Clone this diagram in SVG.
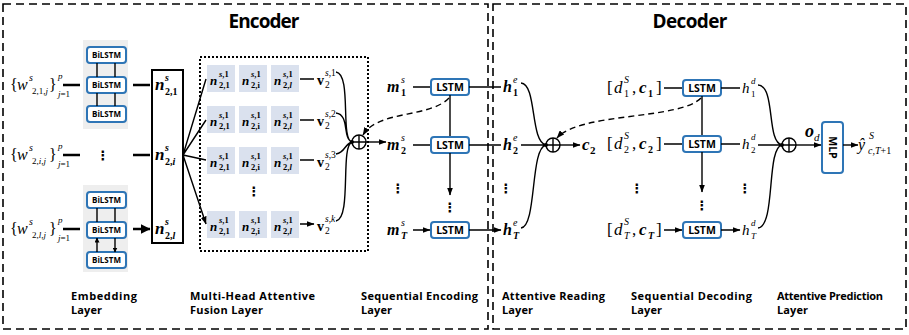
<svg xmlns="http://www.w3.org/2000/svg" width="909" height="335" viewBox="0 0 909 335">
<style>
.frame{fill:none;stroke:#000;stroke-width:1.6;stroke-dasharray:8 5}
.dot{fill:none;stroke:#000;stroke-width:2;stroke-dasharray:2 2}
.title{font-family:"Open Sans","Liberation Sans",sans-serif;font-weight:bold;font-size:19px;text-anchor:middle}
.lbl{font-family:"Open Sans","Liberation Sans",sans-serif;font-weight:bold;font-size:11px}
.box{fill:#fff;stroke:#2e75b6;stroke-width:2}
.bt{font-family:"Open Sans","Liberation Sans",sans-serif;font-weight:bold;font-size:8px;text-anchor:middle}
.lt{font-family:"Open Sans","Liberation Sans",sans-serif;font-weight:bold;font-size:10.5px;text-anchor:middle}
.bg{fill:#eeeeee}
.cell{fill:#dae1ee}
.m{font-family:"Liberation Serif","DejaVu Serif",serif}
.bi{font-style:italic;font-weight:bold}
.it{font-style:italic}
.b{font-weight:bold}
.ln{fill:none;stroke:#000;stroke-width:1.4}
.th{fill:none;stroke:#000;stroke-width:2.6}
.dash{fill:none;stroke:#000;stroke-width:1.4;stroke-dasharray:6 4}
.op{fill:#fff;stroke:#000;stroke-width:1.4}
.vd{font-family:"DejaVu Sans",sans-serif;font-size:13px;font-weight:bold;text-anchor:middle}
</style>
<defs>
<marker id="a" markerUnits="userSpaceOnUse" markerWidth="8" markerHeight="6" refX="7.5" refY="3" orient="auto"><path d="M0,0 L8,3 L0,6 z" fill="#000"/></marker>
<marker id="A" markerUnits="userSpaceOnUse" markerWidth="10" markerHeight="10" refX="9.5" refY="5" orient="auto"><path d="M0,0 L10,5 L0,10 z" fill="#000"/></marker>
<marker id="s" markerUnits="userSpaceOnUse" markerWidth="5" markerHeight="5" refX="4.5" refY="2.5" orient="auto"><path d="M0,0 L5,2.5 L0,5 z" fill="#000"/></marker>
</defs>

<g id="frames">
<rect class="frame" x="3" y="4" width="485" height="325"/>
<rect class="frame" x="493" y="4" width="413" height="325"/>
<text class="title" x="264" y="28" textLength="71">Encoder</text>
<text class="title" x="690" y="28" textLength="75">Decoder</text>
</g>

<g id="inputs" class="m">
<g id="in1">
<text x="10" y="90" font-size="16">{</text><text x="17" y="90" font-size="16" class="it">w</text>
<text x="29" y="81" font-size="10" class="it">s</text><text x="32" y="94" font-size="9">2,1,<tspan class="it">j</tspan></text>
<text x="49" y="90" font-size="16">}</text><text x="58" y="79" font-size="9" class="it">p</text><text x="58" y="97" font-size="9"><tspan class="it">j</tspan>=1</text>
</g>
<g id="in2">
<text x="10" y="160" font-size="16">{</text><text x="17" y="160" font-size="16" class="it">w</text>
<text x="29" y="151" font-size="10" class="it">s</text><text x="32" y="164" font-size="9">2,<tspan class="it">i</tspan>,<tspan class="it">j</tspan></text>
<text x="49" y="160" font-size="16">}</text><text x="58" y="149" font-size="9" class="it">p</text><text x="58" y="167" font-size="9"><tspan class="it">j</tspan>=1</text>
</g>
<g id="in3">
<text x="10" y="234" font-size="16">{</text><text x="17" y="234" font-size="16" class="it">w</text>
<text x="29" y="225" font-size="10" class="it">s</text><text x="32" y="238" font-size="9">2,<tspan class="it">l</tspan>,<tspan class="it">j</tspan></text>
<text x="49" y="234" font-size="16">}</text><text x="58" y="223" font-size="9" class="it">p</text><text x="58" y="241" font-size="9"><tspan class="it">j</tspan>=1</text>
</g>
</g>

<g id="bilstm-top">
<rect class="bg" x="83" y="40" width="45" height="89"/>
<rect class="box" x="87" y="47" width="39" height="16" rx="3"/><text class="bt" x="106.5" y="58">BiLSTM</text>
<rect class="box" x="87" y="77" width="39" height="16" rx="3"/><text class="bt" x="106.5" y="88">BiLSTM</text>
<rect class="box" x="87" y="106" width="39" height="16" rx="3"/><text class="bt" x="106.5" y="117">BiLSTM</text>
</g>
<g id="bilstm-bottom">
<rect class="bg" x="83" y="185" width="45" height="87"/>
<rect class="box" x="87" y="192" width="39" height="16" rx="3"/><text class="bt" x="106.5" y="203">BiLSTM</text>
<rect class="box" x="87" y="222" width="39" height="16" rx="3"/><text class="bt" x="106.5" y="233">BiLSTM</text>
<rect class="box" x="87" y="252" width="39" height="16" rx="3"/><text class="bt" x="106.5" y="263">BiLSTM</text>
</g>
<text class="vd" x="103" y="160">⋮</text>

<g id="n-box">
<rect x="152" y="70" width="31" height="173" fill="#fff" stroke="#000" stroke-width="2"/>
<g class="m">
<text x="155" y="90" font-size="17" class="bi">n</text><text x="165" y="81" font-size="10" class="bi">s</text><text x="165" y="95" font-size="10" class="b">2,1</text>
<text x="155" y="160" font-size="17" class="bi">n</text><text x="165" y="151" font-size="10" class="bi">s</text><text x="165" y="165" font-size="10" class="b">2,<tspan class="it">i</tspan></text>
<text x="155" y="234" font-size="17" class="bi">n</text><text x="165" y="225" font-size="10" class="bi">s</text><text x="165" y="239" font-size="10" class="b">2,<tspan class="it">l</tspan></text>
</g>
</g>

<g id="fusion">
<rect class="dot" x="200" y="57" width="168" height="194"/>
<g id="row1">
<rect class="cell" x="207" y="65" width="28" height="27"/><rect class="cell" x="239" y="65" width="28" height="27"/><rect class="cell" x="271" y="65" width="28" height="27"/>
</g>
<g id="row2">
<rect class="cell" x="207" y="106" width="28" height="27"/><rect class="cell" x="239" y="106" width="28" height="27"/><rect class="cell" x="271" y="106" width="28" height="27"/>
</g>
<g id="row3">
<rect class="cell" x="207" y="147" width="28" height="27"/><rect class="cell" x="239" y="147" width="28" height="27"/><rect class="cell" x="271" y="147" width="28" height="27"/>
</g>
<g id="row4">
<rect class="cell" x="207" y="211" width="28" height="27"/><rect class="cell" x="239" y="211" width="28" height="27"/><rect class="cell" x="271" y="211" width="28" height="27"/>
</g>
<g class="m" font-size="8.5">
<text x="210" y="85" font-size="13" class="bi">n</text><text x="219" y="77" class="b"><tspan class="it">s</tspan>,1</text><text x="219" y="88" class="b">2,1</text>
<text x="242" y="85" font-size="13" class="bi">n</text><text x="251" y="77" class="b"><tspan class="it">s</tspan>,1</text><text x="251" y="88" class="b">2,i</text>
<text x="274" y="85" font-size="13" class="bi">n</text><text x="283" y="77" class="b"><tspan class="it">s</tspan>,1</text><text x="283" y="88" class="b">2,<tspan class="it">l</tspan></text>
<text x="210" y="126" font-size="13" class="bi">n</text><text x="219" y="118" class="b"><tspan class="it">s</tspan>,1</text><text x="219" y="129" class="b">2,1</text>
<text x="242" y="126" font-size="13" class="bi">n</text><text x="251" y="118" class="b"><tspan class="it">s</tspan>,1</text><text x="251" y="129" class="b">2,i</text>
<text x="274" y="126" font-size="13" class="bi">n</text><text x="283" y="118" class="b"><tspan class="it">s</tspan>,1</text><text x="283" y="129" class="b">2,<tspan class="it">l</tspan></text>
<text x="210" y="167" font-size="13" class="bi">n</text><text x="219" y="159" class="b"><tspan class="it">s</tspan>,1</text><text x="219" y="170" class="b">2,1</text>
<text x="242" y="167" font-size="13" class="bi">n</text><text x="251" y="159" class="b"><tspan class="it">s</tspan>,1</text><text x="251" y="170" class="b">2,i</text>
<text x="274" y="167" font-size="13" class="bi">n</text><text x="283" y="159" class="b"><tspan class="it">s</tspan>,1</text><text x="283" y="170" class="b">2,<tspan class="it">l</tspan></text>
<text x="210" y="231" font-size="13" class="bi">n</text><text x="219" y="223" class="b"><tspan class="it">s</tspan>,1</text><text x="219" y="234" class="b">2,1</text>
<text x="242" y="231" font-size="13" class="bi">n</text><text x="251" y="223" class="b"><tspan class="it">s</tspan>,1</text><text x="251" y="234" class="b">2,i</text>
<text x="274" y="231" font-size="13" class="bi">n</text><text x="283" y="223" class="b"><tspan class="it">s</tspan>,1</text><text x="283" y="234" class="b">2,<tspan class="it">l</tspan></text>
</g>
<text class="vd" x="254" y="196">⋮</text>
<g class="m" font-size="9.5">
<text x="317" y="85" font-size="14" class="b">v</text><text x="325" y="76"><tspan class="it">s</tspan>,1</text><text x="325" y="88">2</text>
<text x="317" y="126" font-size="14" class="b">v</text><text x="325" y="117"><tspan class="it">s</tspan>,2</text><text x="325" y="129">2</text>
<text x="317" y="167" font-size="14" class="b">v</text><text x="325" y="158"><tspan class="it">s</tspan>,3</text><text x="325" y="170">2</text>
<text x="317" y="231" font-size="14" class="b">v</text><text x="325" y="222"><tspan class="it">s</tspan>,<tspan class="it">k</tspan></text><text x="325" y="234">2</text>
</g>
</g>

<g id="oplus-enc"><circle class="op" cx="359" cy="142" r="7"/><path class="ln" d="M352,142 H366 M359,135 V149"/></g>

<g id="seq-enc">
<g class="m">
<text x="387" y="92" font-size="16" class="bi">m</text><text x="401" y="83" font-size="10" class="it">s</text><text x="401" y="96" font-size="10" class="b">1</text>
<text x="387" y="150" font-size="16" class="bi">m</text><text x="401" y="141" font-size="10" class="it">s</text><text x="401" y="154" font-size="10" class="b">2</text>
<text x="387" y="235" font-size="16" class="bi">m</text><text x="401" y="226" font-size="10" class="it">s</text><text x="401" y="239" font-size="10" class="bi">T</text>
</g>
<text class="vd" x="398" y="193">⋮</text>
<rect class="box" x="431" y="79" width="38" height="16" rx="3"/><text class="lt" x="450" y="91">LSTM</text>
<rect class="box" x="431" y="137" width="38" height="16" rx="3"/><text class="lt" x="450" y="149">LSTM</text>
<rect class="box" x="431" y="222" width="38" height="16" rx="3"/><text class="lt" x="450" y="234">LSTM</text>
<text class="vd" x="450" y="212">⋮</text>
</g>

<g id="reading">
<g class="m">
<text x="503" y="92" font-size="16" class="bi">h</text><text x="513" y="83" font-size="10" class="it">e</text><text x="513" y="96" font-size="10" class="b">1</text>
<text x="503" y="150" font-size="16" class="bi">h</text><text x="513" y="141" font-size="10" class="it">e</text><text x="513" y="154" font-size="10" class="b">2</text>
<text x="503" y="235" font-size="16" class="bi">h</text><text x="513" y="226" font-size="10" class="it">e</text><text x="513" y="239" font-size="10" class="bi">T</text>
<text x="582" y="150" font-size="17" class="bi">c</text><text x="590" y="154" font-size="11" class="b">2</text>
</g>
<text class="vd" x="506" y="193">⋮</text>
<g id="oplus-read"><circle class="op" cx="553" cy="145" r="7"/><path class="ln" d="M546,145 H560 M553,138 V152"/></g>
</g>

<g id="seq-dec">
<g class="m">
<text x="607" y="93" font-size="17">[</text><text x="614" y="93" font-size="17" class="it">d</text><text x="624" y="83" font-size="10" class="it">S</text><text x="624" y="97" font-size="10">1</text><text x="632" y="93" font-size="17">,</text><text x="639" y="93" font-size="17" class="bi">c</text><text x="648" y="97" font-size="10" class="b">1</text><text x="656" y="93" font-size="17">]</text>
<text x="607" y="149" font-size="17">[</text><text x="614" y="149" font-size="17" class="it">d</text><text x="624" y="139" font-size="10" class="it">S</text><text x="624" y="153" font-size="10">2</text><text x="632" y="149" font-size="17">,</text><text x="639" y="149" font-size="17" class="bi">c</text><text x="648" y="153" font-size="10" class="b">2</text><text x="656" y="149" font-size="17">]</text>
<text x="607" y="235" font-size="17">[</text><text x="614" y="235" font-size="17" class="it">d</text><text x="624" y="225" font-size="10" class="it">S</text><text x="624" y="239" font-size="10" class="it">T</text><text x="632" y="235" font-size="17">,</text><text x="639" y="235" font-size="17" class="bi">c</text><text x="648" y="239" font-size="10" class="bi">T</text><text x="656" y="235" font-size="17">]</text>
</g>
<text class="vd" x="637" y="193">⋮</text>
<rect class="box" x="683" y="80" width="38" height="16" rx="3"/><text class="lt" x="702" y="92">LSTM</text>
<rect class="box" x="683" y="136" width="38" height="16" rx="3"/><text class="lt" x="702" y="148">LSTM</text>
<rect class="box" x="683" y="222" width="38" height="16" rx="3"/><text class="lt" x="702" y="234">LSTM</text>
<text class="vd" x="702" y="210">⋮</text>
<g class="m">
<text x="742" y="93" font-size="15" class="it">h</text><text x="751" y="84" font-size="9" class="it">d</text><text x="751" y="97" font-size="9">1</text>
<text x="742" y="149" font-size="15" class="it">h</text><text x="751" y="140" font-size="9" class="it">d</text><text x="751" y="153" font-size="9">2</text>
<text x="742" y="235" font-size="15" class="it">h</text><text x="751" y="226" font-size="9" class="it">d</text><text x="751" y="239" font-size="9" class="it">T</text>
</g>
<text class="vd" x="745" y="193">⋮</text>
</g>

<g id="prediction">
<g id="oplus-pred"><circle class="op" cx="789" cy="145" r="7"/><path class="ln" d="M782,145 H796 M789,138 V152"/></g>
<g class="m"><text x="805" y="137" font-size="18" class="bi">o</text><text x="814" y="141" font-size="11" class="it">d</text></g>
<rect class="box" x="822" y="122" width="21" height="51" rx="3"/>
<text class="lt" transform="translate(832.5,147.5) rotate(90)" y="4">MLP</text>
<g class="m">
<text x="858" y="150" font-size="16" class="it">ŷ</text><text x="869" y="139" font-size="10" class="it">S</text><text x="868" y="154" font-size="10"><tspan class="it">c</tspan>,<tspan class="it">T</tspan>+1</text>
</g>
</g>

<g id="connectors">
<path class="th" marker-end="url(#A)" d="M63,85 H80 M63,155 H80 M63,229 H80 M133,85 H150 M133,155 H150 M133,229 H150"/>
<path class="ln" marker-end="url(#s)" d="M97,77 V63 M97,106 V93 M97,222 V208 M97,252 V238"/>
<path class="ln" marker-end="url(#s)" d="M115,63 V77 M115,93 V106 M115,208 V222 M115,238 V252"/>
<path class="ln" marker-end="url(#a)" d="M183,155 L206,79 M183,155 L206,120 M183,155 L206,160 M183,155 L206,224"/>
<path class="ln" marker-end="url(#a)" d="M300,79 H314 M300,120 H314 M300,160 H314 M300,224 H314"/>
<path class="ln" d="M336,72 C352,74 340,140 352,142 M336,113 C350,115 342,138 352,142 M336,154 C346,152 344,144 352,142 M336,221 C352,218 340,146 352,142"/>
<circle cx="352" cy="142" r="2" fill="#000"/>
<path class="ln" marker-end="url(#a)" d="M366,142 H386"/>
<path class="ln" marker-end="url(#a)" d="M413,87 H430 M413,145 H430 M413,230 H430"/>
<path class="ln" marker-end="url(#a)" d="M450,95 V136 M450,153 V195"/>
<path class="ln" marker-end="url(#a)" d="M469,87 H501 M469,145 H501 M469,230 H501"/>
<path class="dash" marker-end="url(#a)" d="M449,98 C430,118 378,110 363,135"/>
<path class="ln" d="M521,83 C537,84 530,142 546,145 M521,145 H546 M521,228 C537,226 530,148 546,145"/>
<circle cx="546" cy="145" r="2" fill="#000"/>
<path class="ln" marker-end="url(#a)" d="M560,145 H580"/>
<path class="dash" marker-end="url(#a)" d="M701,98 C680,120 580,112 557,138"/>
<path class="ln" marker-end="url(#a)" d="M664,88 H682 M664,144 H682 M664,230 H682"/>
<path class="ln" marker-end="url(#a)" d="M702,96 V135 M702,152 V192"/>
<path class="ln" marker-end="url(#a)" d="M721,88 H740 M721,144 H740 M721,230 H740"/>
<path class="ln" d="M758,85 C776,86 766,142 782,145 M758,145 H782 M758,228 C776,226 766,148 782,145"/>
<circle cx="782" cy="145" r="2" fill="#000"/>
<path class="ln" marker-end="url(#a)" d="M796,145 H821"/>
<path class="ln" marker-end="url(#a)" d="M843,145 H858"/>
</g>

<g id="layer-labels" class="lbl">
<text x="71" y="300" textLength="66">Embedding</text><text x="71" y="314" textLength="31">Layer</text>
<text x="190" y="300" textLength="125">Multi-Head Attentive</text><text x="190" y="314" textLength="73">Fusion Layer</text>
<text x="361" y="300" textLength="117">Sequential Encoding</text><text x="361" y="314" textLength="31">Layer</text>
<text x="502" y="300" textLength="103">Attentive Reading</text><text x="502" y="314" textLength="31">Layer</text>
<text x="631" y="300" textLength="121">Sequential Decoding</text><text x="631" y="314" textLength="31">Layer</text>
<text x="777" y="300" textLength="106">Attentive Prediction</text><text x="777" y="314" textLength="31">Layer</text>
</g>
</svg>
